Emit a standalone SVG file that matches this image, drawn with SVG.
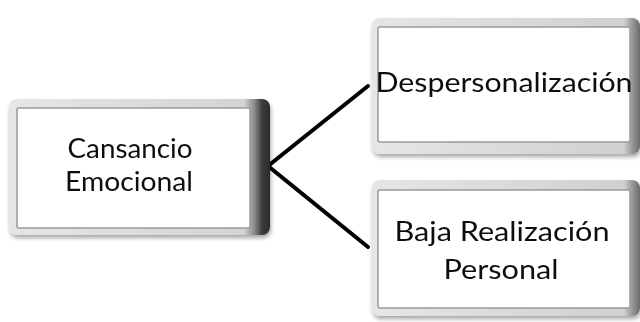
<svg xmlns="http://www.w3.org/2000/svg" width="640" height="322" viewBox="0 0 640 322">
<defs>
<linearGradient id="bevL" x1="0" y1="0" x2="1" y2="0">
<stop offset="0" stop-color="#e6e6e6"/>
<stop offset="0.9" stop-color="#d4d4d4"/>
<stop offset="0.94" stop-color="#8a8a8a"/>
<stop offset="0.97" stop-color="#3c3c3c"/>
<stop offset="1" stop-color="#2a2a2a"/>
</linearGradient>
<linearGradient id="bevR" x1="0" y1="0" x2="1" y2="0">
<stop offset="0" stop-color="#e6e6e6"/>
<stop offset="0.94" stop-color="#d0d0d0"/>
<stop offset="0.97" stop-color="#9a9a9a"/>
<stop offset="1" stop-color="#6a6a6a"/>
</linearGradient>
<filter id="sh" x="-10%" y="-10%" width="120%" height="130%">
<feGaussianBlur in="SourceAlpha" stdDeviation="2"/>
<feOffset dx="1" dy="3" result="b"/>
<feComponentTransfer><feFuncA type="linear" slope="0.35"/></feComponentTransfer>
<feMerge><feMergeNode/><feMergeNode in="SourceGraphic"/></feMerge>
</filter>
</defs>
<style>
.inner{fill:#ffffff;stroke:#9a9a9a;stroke-width:1.5}
.t{font-family:Lato,"Open Sans",sans-serif;fill:#111;text-anchor:middle}
.c{fill:none;stroke:#000;stroke-width:4;stroke-linecap:round}
</style>
<g id="connectors">
<path class="c" d="M368,86 L268,166 L368,247"/>
</g>
<g id="node-cansancio" filter="url(#sh)">
<rect x="9" y="99" width="261" height="136" rx="8" fill="url(#bevL)"/>
<rect class="inner" x="17" y="108" width="233" height="120" rx="2"/>
<text class="t" x="130" y="158" font-size="26" textLength="125" lengthAdjust="spacingAndGlyphs">Cansancio</text>
<text class="t" x="129" y="191" font-size="26" textLength="128" lengthAdjust="spacingAndGlyphs">Emocional</text>
</g>
<g id="node-despersonalizacion" filter="url(#sh)">
<rect x="372" y="18" width="268" height="136" rx="8" fill="url(#bevR)"/>
<rect class="inner" x="378" y="27" width="252" height="115" rx="2"/>
<text class="t" x="504" y="92" font-size="27" textLength="257" lengthAdjust="spacingAndGlyphs">Despersonalización</text>
</g>
<g id="node-baja" filter="url(#sh)">
<rect x="372" y="180" width="268" height="136" rx="8" fill="url(#bevR)"/>
<rect class="inner" x="378" y="190" width="252" height="118" rx="2"/>
<text class="t" x="502" y="241" font-size="27" textLength="215" lengthAdjust="spacingAndGlyphs">Baja Realización</text>
<text class="t" x="501" y="279" font-size="27" textLength="115" lengthAdjust="spacingAndGlyphs">Personal</text>
</g>
</svg>
